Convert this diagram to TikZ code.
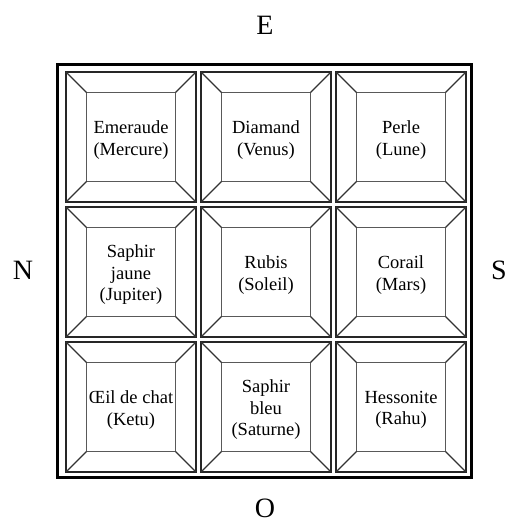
\documentclass[tikz,border=0pt]{standalone}
\usepackage{fontspec}
\setmainfont{Liberation Serif}
\begin{document}
\begin{tikzpicture}[x=1pt,y=-1pt,
  frame/.style={draw=black,line width=3pt,minimum width=414pt,minimum height=412pt,inner sep=0pt,outer sep=0pt},
  cell/.style={draw=black!85,line width=1.9pt,minimum size=130pt,inner sep=0pt,outer sep=0pt},
  face/.style={draw=black!65,line width=1.3pt,minimum size=89pt,inner sep=0pt,outer sep=0pt},
  gem/.style={align=center,inner sep=0pt,font=\fontsize{18.5}{21.5}\selectfont},
  bevel/.style={draw=black!80,line width=1.1pt},
  compass/.style={font=\fontsize{28}{30}\selectfont,inner sep=0pt}]
\useasboundingbox (0,0) rectangle (509,524);

% outer border of the board
\node[frame] (board) at (264,271) {};

% compass points
\node[compass] (east)  at (265,25)  {E};
\node[compass] (north) at (23,270)  {N};
\node[compass] (south) at (499,270) {S};
\node[compass] (west)  at (265,508) {O};

% the nine squares: outer cell, inner face, bevel lines between them, gem name
\foreach \n/\x/\y/\t in {
  1/131/137/{Emeraude\\(Mercure)},
  2/266/137/{Diamand\\(Venus)},
  3/401/137/{Perle\\(Lune)},
  4/131/272/{Saphir\\jaune\\(Jupiter)},
  5/266/272/{Rubis\\(Soleil)},
  6/401/272/{Corail\\(Mars)},
  7/131/407/{Œil de chat\\(Ketu)},
  8/266/407/{Saphir\\bleu\\(Saturne)},
  9/401/407/{Hessonite\\(Rahu)}}{
  \node[cell] (c\n) at (\x,\y) {};
  \node[face] (f\n) at (\x,\y) {};
  \foreach \a in {north west,north east,south west,south east}
    \draw[bevel] (c\n.\a) -- (f\n.\a);
  \node[gem] (g\n) at ([yshift=-3pt]f\n.center) {\t};
}
\end{tikzpicture}
\end{document}
